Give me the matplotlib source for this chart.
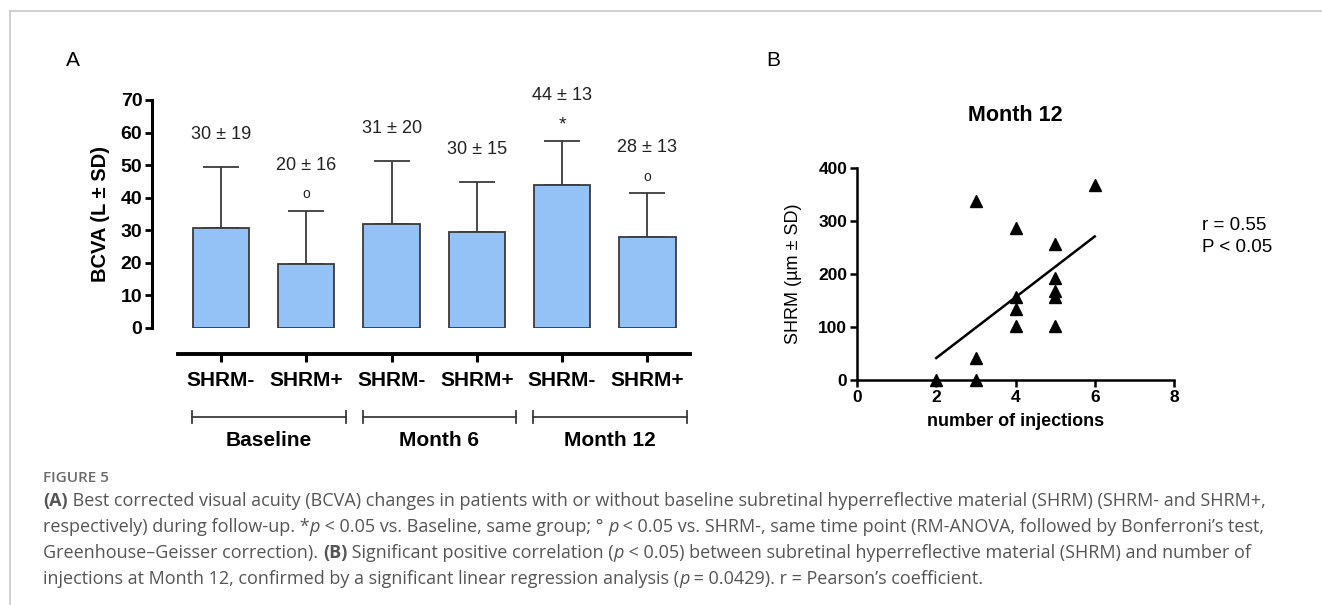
import numpy as np
import matplotlib.pyplot as plt
from matplotlib.lines import Line2D

plt.rcParams['font.family'] = ['Liberation Sans', 'DejaVu Sans']

# Panel A: BCVA per group and time point
grupos = ['SHRM-', 'SHRM+', 'SHRM-', 'SHRM+', 'SHRM-', 'SHRM+']
bcva_media = [30.7, 19.5, 31.8, 29.5, 44.0, 27.8]
bcva_sd = [18.6, 16.5, 19.5, 15.2, 13.3, 13.5]
etiquetas_barra = ['30 ± 19', '20 ± 16', '31 ± 20', '30 ± 15', '44 ± 13', '28 ± 13']
marcas = ['', 'o', '', '', '*', 'o']
tiempos = ['Baseline', 'Month 6', 'Month 12']

# Panel B: SHRM vs number of injections at month 12
inyecciones = [2, 3, 3, 3, 4, 4, 4, 4, 5, 5, 5, 5, 5, 6]
shrm = [0, 0, 41, 338, 287, 157, 134, 102, 257, 193, 167, 157, 101, 367]

W, H = 1322, 605
fig = plt.figure(figsize=(W / 100, H / 100), dpi=100)


def fx(px):
    return px / W


def fy(py):
    return 1 - py / H


# marco gris de la figura
fig.add_artist(Line2D([fx(10), fx(10)], [fy(11), 0], color='#c8c8c8', lw=1.2))
fig.add_artist(Line2D([fx(10), 1], [fy(11), fy(11)], color='#c8c8c8', lw=1.2))

# ---------------- Panel A ----------------
axA = fig.add_axes([fx(152), fy(328), fx(690 - 152), (328 - 100) / H])
x = np.arange(len(bcva_media))
axA.bar(x, bcva_media, width=0.66, color='#94c1f6', edgecolor='#3a3a3a', linewidth=1.3, zorder=2)
axA.errorbar(x, bcva_media, yerr=[np.zeros(len(bcva_sd)), bcva_sd], fmt='none',
             ecolor='#3a3a3a', elinewidth=1.3, capsize=13, capthick=1.3, zorder=1)
axA.set_xlim(-0.81, 5.5)
axA.set_ylim(0, 70)
axA.set_yticks(range(0, 71, 10))
axA.spines['top'].set_visible(False)
axA.spines['right'].set_visible(False)
axA.spines['left'].set_linewidth(2.2)
axA.spines['bottom'].set_linewidth(2.8)
axA.spines['bottom'].set_position(('outward', 18.7))
axA.spines['bottom'].set_bounds(-0.5, 5.5)
axA.set_xticks(x)
axA.set_xticklabels(grupos, fontsize=15, fontweight='bold')
axA.tick_params(axis='y', direction='out', length=5, width=2, labelsize=14, pad=2)
axA.tick_params(axis='x', direction='out', length=6, width=2.2, pad=6)
for lab in axA.get_yticklabels():
    lab.set_fontweight('bold')
axA.set_ylabel('BCVA (L ± SD)', fontsize=14.5, fontweight='bold', labelpad=8)

for i in range(len(bcva_media)):
    top = bcva_media[i] + bcva_sd[i]
    if marcas[i]:
        axA.text(i, top + 5, marcas[i], ha='center', va='center',
                 fontsize=10 if marcas[i] == 'o' else 14, color='#222222')
        axA.text(i, top + 14, etiquetas_barra[i], ha='center', va='center', fontsize=13, color='#222222')
    else:
        axA.text(i, top + 10, etiquetas_barra[i], ha='center', va='center', fontsize=13, color='#222222')

# corchetes de tiempo
tr = axA.get_xaxis_transform()
for k, t in enumerate(tiempos):
    x0, x1 = 2 * k - 0.34, min(2 * k + 1.46, 5.5)
    yb = -(417 - 328) / 228
    axA.plot([x0, x1], [yb, yb], transform=tr, color='#3a3a3a', lw=1.3, clip_on=False)
    for xe in (x0, x1):
        axA.plot([xe, xe], [yb - 0.028, yb + 0.028], transform=tr, color='#3a3a3a', lw=1.3, clip_on=False)
    axA.text((x0 + x1) / 2, -(441 - 328) / 228, t, transform=tr, ha='center', va='center',
             fontsize=15, fontweight='bold')

fig.text(fx(73), fy(60), 'A', fontsize=15, ha='center', va='center')

# ---------------- Panel B ----------------
axB = fig.add_axes([fx(857), fy(380), fx(1174 - 857), (380 - 168) / H])
axB.plot(inyecciones, shrm, linestyle='none', marker='^', markersize=9, color='black', clip_on=False, zorder=3)
coef = np.polyfit(inyecciones, shrm, 1)
xl = np.array([min(inyecciones), max(inyecciones)])
axB.plot(xl, np.polyval(coef, xl), color='black', lw=1.8)
axB.set_xlim(0, 8)
axB.set_ylim(0, 400)
axB.set_xticks([0, 2, 4, 6, 8])
axB.set_yticks([0, 100, 200, 300, 400])
axB.spines['top'].set_visible(False)
axB.spines['right'].set_visible(False)
axB.spines['left'].set_linewidth(1.8)
axB.spines['bottom'].set_linewidth(1.8)
axB.tick_params(direction='out', length=5, width=1.8, labelsize=12.5, pad=2)
for lab in axB.get_xticklabels() + axB.get_yticklabels():
    lab.set_fontweight('bold')
axB.set_xlabel('number of injections', fontsize=13, fontweight='bold', labelpad=6)
axB.set_ylabel('SHRM (µm ± SD)', fontsize=13, labelpad=12)
axB.set_title('Month 12', fontsize=15.5, fontweight='bold', pad=34)
fig.text(fx(1202), fy(225), 'r = 0.55', fontsize=13.5, va='center')
fig.text(fx(1202), fy(247), 'P < 0.05', fontsize=13.5, va='center')
fig.text(fx(773), fy(60), 'B', fontsize=15, ha='center', va='center')

# ---------------- Leyenda ----------------
cap_font = ['Open Sans', 'DejaVu Sans']
fig.text(fx(43), fy(478), 'FIGURE 5', fontsize=11, color='#6b6b6b', va='center',
         fontweight='semibold', family=cap_font)

N, B, I = {}, {'fontweight': 'bold'}, {'fontstyle': 'italic'}
lineas = [
    [('(A)', B), (' Best corrected visual acuity (BCVA) changes in patients with or without baseline subretinal '
                  'hyperreflective material (SHRM) (SHRM- and SHRM+,', N)],
    [('respectively) during follow-up. *', N), ('p', I), (' < 0.05 vs. Baseline, same group; ° ', N), ('p', I),
     (' < 0.05 vs. SHRM-, same time point (RM-ANOVA, followed by Bonferroni’s test,', N)],
    [('Greenhouse–Geisser correction). ', N), ('(B)', B), (' Significant positive correlation (', N), ('p', I),
     (' < 0.05) between subretinal hyperreflective material (SHRM) and number of', N)],
    [('injections at Month 12, confirmed by a significant linear regression analysis (', N), ('p', I),
     (' = 0.0429). r = Pearson’s coefficient.', N)],
]
renderer = fig.canvas.get_renderer()
estilo = dict(fontsize=13, color='#555555', va='center', family=cap_font)


def ancho(s, extra):
    kw = dict(estilo)
    kw.update(extra)
    t1 = fig.text(0, 0, s + '|', **kw)
    t2 = fig.text(0, 0, '|', **kw)
    w = t1.get_window_extent(renderer).width - t2.get_window_extent(renderer).width
    t1.remove()
    t2.remove()
    return w


# ajustar el tamaño para que la primera línea ocupe el ancho del original
w1 = sum(ancho(s, e) for s, e in lineas[0])
estilo['fontsize'] = estilo['fontsize'] * (1262 - 43) / w1

for j, segs in enumerate(lineas):
    xp = 43
    yp = 501 + j * 26
    for s, extra in segs:
        kw = dict(estilo)
        kw.update(extra)
        fig.text(fx(xp), fy(yp), s, **kw)
        xp += ancho(s, extra)

fig.savefig('out.png', dpi=100)
